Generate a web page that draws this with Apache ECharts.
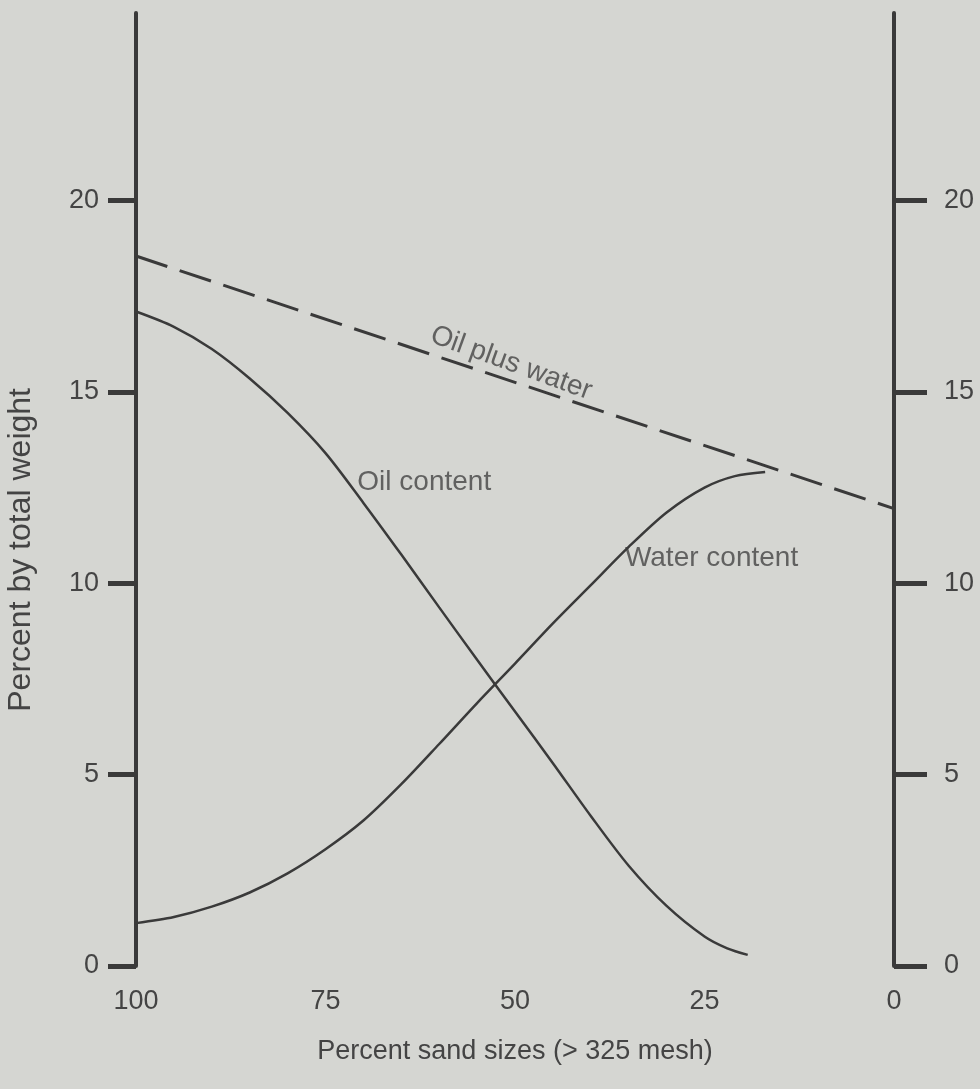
<!DOCTYPE html>
<html>
<head>
<meta charset="utf-8">
<script src="https://cdn.jsdelivr.net/npm/echarts@6/dist/echarts.min.js"></script>
<style>
  html, body { margin: 0; padding: 0; background: #d5d6d2; }
  #chart { width: 980px; height: 1089px; }
</style>
</head>
<body>
<div id="chart"></div>
<script>
// Percent sand sizes (> 325 mesh), axis runs from 100 on the left to 0 on the right
const oilSand   = [100, 95, 90, 85, 80, 75, 70, 65, 60, 55, 50, 45, 40, 35, 30, 25, 22, 19.3];
const oilPct    = [17.1, 16.7, 16.12, 15.35, 14.45, 13.4, 12.1, 10.75, 9.37, 8.0, 6.65, 5.3, 3.92, 2.62, 1.57, 0.77, 0.46, 0.29];

const waterSand = [100, 95, 90, 85, 80, 75, 70, 65, 60, 55, 50, 45, 40, 35, 30, 25, 21, 17];
const waterPct  = [1.12, 1.28, 1.55, 1.92, 2.42, 3.05, 3.8, 4.75, 5.8, 6.87, 7.9, 8.95, 9.95, 10.95, 11.85, 12.5, 12.8, 12.91];

const totalSand = [100, 0];
const totalPct  = [18.55, 11.95];

const sandTicks = [100, 75, 50, 25, 0];
const pctTicks  = [0, 5, 10, 15, 20];

// Curve captions, anchored in data coordinates
const captionText = ['Oil content', 'Water content', 'Oil plus water'];
const captionSand = [70.8, 35.5, 50.5];
const captionPct  = [12.65, 10.66, 15.75];

const ink = '#3a3a3a';
const textInk = '#444444';
const font = '"Liberation Sans", Arial, Helvetica, sans-serif';

function pairs(xs, ys) { return xs.map((x, i) => [x, ys[i]]); }

const chart = echarts.init(document.getElementById('chart'), null, { renderer: 'canvas' });

function pctAxis(position, tickLen, labelGap) {
  return {
    type: 'value',
    position: position,
    min: 0,
    max: 24.9,
    interval: 5,
    splitLine: { show: false },
    axisLine: { show: true, onZero: false, lineStyle: { color: ink, width: 4, cap: 'round' } },
    axisTick: {
      show: true, inside: false, length: tickLen, customValues: pctTicks,
      lineStyle: { color: ink, width: 5 }
    },
    axisLabel: {
      color: textInk, fontSize: 27, fontFamily: font, margin: labelGap,
      customValues: pctTicks
    }
  };
}

chart.setOption({
  backgroundColor: '#d5d6d2',
  animation: false,
  grid: { left: 136, right: 86, top: 13, bottom: 123, containLabel: false },
  xAxis: {
    type: 'value',
    inverse: true,
    min: 0,
    max: 100,
    interval: 25,
    axisLine: { show: false },
    axisTick: { show: false },
    splitLine: { show: false },
    axisLabel: {
      color: textInk, fontSize: 27, fontFamily: font, margin: 22,
      customValues: sandTicks
    },
    name: 'Percent sand sizes (> 325 mesh)',
    nameLocation: 'middle',
    nameGap: 72,
    nameTextStyle: { color: textInk, fontSize: 27, fontFamily: font, fontWeight: 500 }
  },
  yAxis: [pctAxis('left', 28, 37), pctAxis('right', 33, 50)],
  graphic: [{
    type: 'text',
    left: 5,
    top: 388,
    rotation: Math.PI / 2,
    style: {
      text: 'Percent by total weight',
      fill: textInk,
      font: '500 32px ' + font
    }
  }],
  series: [
    {
      name: 'Oil plus water',
      type: 'line',
      yAxisIndex: 0,
      data: pairs(totalSand, totalPct),
      showSymbol: false,
      lineStyle: { color: ink, width: 3, type: [33, 13] }
    },
    {
      name: 'Oil content',
      type: 'line',
      yAxisIndex: 0,
      data: pairs(oilSand, oilPct),
      smooth: 0.3,
      showSymbol: false,
      lineStyle: { color: ink, width: 2.5 }
    },
    {
      name: 'Water content',
      type: 'line',
      yAxisIndex: 0,
      data: pairs(waterSand, waterPct),
      smooth: 0.3,
      showSymbol: false,
      lineStyle: { color: ink, width: 2.5 }
    },
    {
      name: 'Captions',
      type: 'scatter',
      yAxisIndex: 0,
      symbolSize: 0,
      silent: true,
      data: captionText.map((t, i) => ({
        value: [captionSand[i], captionPct[i]],
        label: i === 2
          ? { show: true, formatter: t, position: 'inside', rotate: -20, align: 'center' }
          : { show: true, formatter: t, position: 'right', distance: 0 }
      })),
      label: { color: textInk, fontSize: 28, fontFamily: font }
    }
  ]
});
</script>
</body>
</html>
